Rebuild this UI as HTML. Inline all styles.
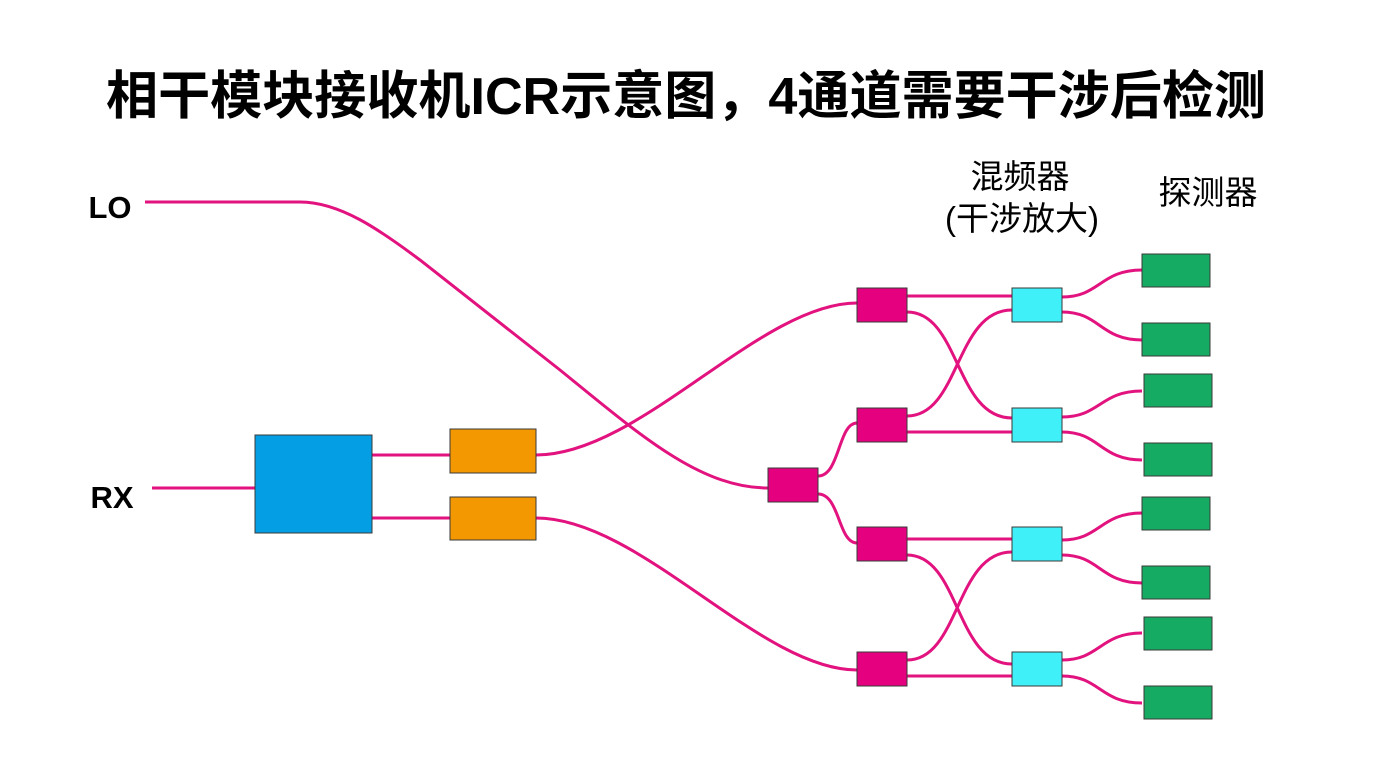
<!DOCTYPE html>
<html><head><meta charset="utf-8"><style>
html,body{margin:0;padding:0;background:#fff;}
body{width:1384px;height:779px;overflow:hidden;position:relative;font-family:"Liberation Sans","Noto Sans CJK SC",sans-serif;}
</style></head><body>
<svg width="1384" height="779" xmlns="http://www.w3.org/2000/svg" style="position:absolute;left:0;top:0">
<text x="686" y="114" text-anchor="middle" font-family="Liberation Sans, Noto Sans CJK SC, sans-serif" font-weight="bold" font-size="52" textLength="1160" lengthAdjust="spacingAndGlyphs" fill="#000">相干模块接收机ICR示意图，4通道需要干涉后检测</text>
<text x="110" y="218" text-anchor="middle" font-weight="bold" font-size="31" font-family="Liberation Sans, sans-serif">LO</text>
<text x="112" y="508" text-anchor="middle" font-weight="bold" font-size="31" font-family="Liberation Sans, sans-serif">RX</text>
<text x="1020" y="188" text-anchor="middle" font-size="33" font-family="Liberation Sans, Noto Sans CJK SC, sans-serif">混频器</text>
<text x="1022" y="230" text-anchor="middle" font-size="33" font-family="Liberation Sans, Noto Sans CJK SC, sans-serif">(干涉放大)</text>
<text x="1208" y="204" text-anchor="middle" font-size="33" font-family="Liberation Sans, Noto Sans CJK SC, sans-serif">探测器</text>
<g fill="none" stroke="#e2127f" stroke-width="3">
<path d="M145 202 L300 202 C340 202 380 230 420 260 L560 370 C640 435 700 488 768 488"/>
<path d="M152 488 L255 488"/>
<path d="M372 455 L450 455"/>
<path d="M372 518 L450 518"/>
<path d="M536 455 C640 455 760 303 857 303"/>
<path d="M536 518 C640 518 760 670 857 670"/>
<path d="M818 476 C840 476 838 423 857 423"/>
<path d="M818 494 C840 494 838 543 857 543"/>
<path d="M907 296 L1012 296"/>
<path d="M907 312 C960 312 955 418 1012 418"/>
<path d="M907 416 C960 416 955 310 1012 310"/>
<path d="M907 432 L1012 432"/>
<path d="M907 539 L1012 539"/>
<path d="M907 555 C960 555 955 664 1012 664"/>
<path d="M907 660 C960 660 955 552 1012 552"/>
<path d="M907 676 L1012 676"/>
<path d="M1062 297 C1100 297 1100 270 1142 270"/>
<path d="M1062 312 C1100 312 1100 340 1142 340"/>
<path d="M1062 417 C1100 417 1100 391 1142 391"/>
<path d="M1062 432 C1100 432 1100 460 1142 460"/>
<path d="M1062 540 C1100 540 1100 513 1142 513"/>
<path d="M1062 555 C1100 555 1100 583 1142 583"/>
<path d="M1062 660 C1100 660 1100 633 1142 633"/>
<path d="M1062 676 C1100 676 1100 703 1142 703"/>
</g>
<g stroke="#3a3a3a" stroke-width="1">
<rect x="255" y="435" width="117" height="98" fill="#039ee3"/>
<rect x="450" y="429" width="86" height="44" fill="#f39800"/>
<rect x="450" y="497" width="86" height="43" fill="#f39800"/>
<rect x="768" y="468" width="50" height="34" fill="#e4007f"/>
<rect x="857" y="288" width="50" height="34" fill="#e4007f"/>
<rect x="857" y="408" width="50" height="34" fill="#e4007f"/>
<rect x="857" y="527" width="50" height="34" fill="#e4007f"/>
<rect x="857" y="652" width="50" height="34" fill="#e4007f"/>
<rect x="1012" y="288" width="50" height="34" fill="#3ff0f8"/>
<rect x="1012" y="408" width="50" height="34" fill="#3ff0f8"/>
<rect x="1012" y="527" width="50" height="34" fill="#3ff0f8"/>
<rect x="1012" y="652" width="50" height="34" fill="#3ff0f8"/>
<g fill="#16ab62">
<rect x="1142" y="254" width="68" height="33"/>
<rect x="1142" y="323" width="68" height="33"/>
<rect x="1144" y="374" width="68" height="33"/>
<rect x="1144" y="443" width="68" height="33"/>
<rect x="1142" y="497" width="68" height="33"/>
<rect x="1142" y="566" width="68" height="33"/>
<rect x="1144" y="617" width="68" height="33"/>
<rect x="1144" y="686" width="68" height="33"/>
</g>
</g>
</svg>
</body></html>
